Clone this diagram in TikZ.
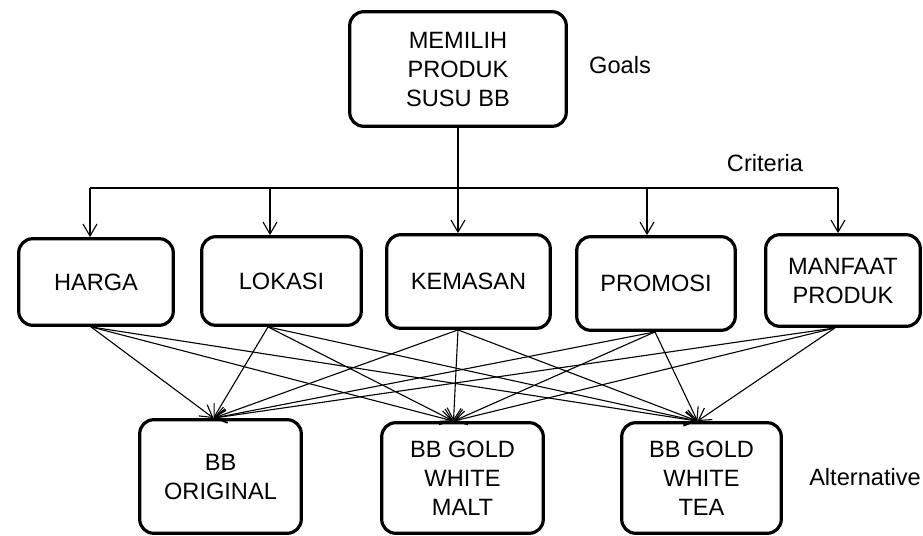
\documentclass[tikz,border=0pt]{standalone}
\usepackage{fontspec}
\setmainfont{Liberation Sans}
\usepackage{tikz}
\usetikzlibrary{arrows.meta}

\begin{document}
\begin{tikzpicture}[x=0.5pt,y=-0.5pt,font=\fontsize{11.8}{14.5}\selectfont]
\tikzset{kotak/.style={draw,line width=1.6pt,rounded corners=7pt,fill=white,align=center,inner sep=0pt,minimum width=79pt,minimum height=45pt}}
\tikzset{panah/.style={-{Straight Barb[length=6pt,width=7pt]},line width=0.55pt}}
\useasboundingbox (0,0) rectangle (923,536);
\node[kotak,minimum width=108.3pt,minimum height=57.3pt] (goal) at (458,69) {MEMILIH\\PRODUK\\SUSU BB};
\node[kotak,minimum width=77.3pt,minimum height=43.3pt] (harga) at (96,282) {HARGA};
\node[kotak,minimum width=79.8pt,minimum height=44.3pt] (lokasi) at (281.5,281) {LOKASI};
\node[kotak,minimum width=81.8pt,minimum height=46.8pt] (kemasan) at (468.5,281.5) {KEMASAN};
\node[kotak,minimum width=79.3pt,minimum height=46.8pt] (promosi) at (656,283.5) {PROMOSI};
\node[kotak,minimum width=77.3pt,minimum height=45.8pt] (manfaat) at (843,280.5) {MANFAAT\\PRODUK};
\node[kotak,minimum width=80.8pt,minimum height=56.8pt] (orig) at (220.5,476.5) {BB\\ORIGINAL};
\node[kotak,minimum width=80.8pt,minimum height=55.3pt] (malt) at (462.5,478) {BB GOLD\\WHITE\\MALT};
\node[kotak,minimum width=79.8pt,minimum height=55.3pt] (tea) at (701.5,478) {BB GOLD\\WHITE\\TEA};
\node (goals) at (620,65) {Goals};
\node (criteria) at (765,163) {Criteria};
\node (alt) at (865,477) {Alternative};
\coordinate (bar) at (458,188);
\foreach \k/\t/\b in {harga/-3/-2.5,lokasi/-5.75/-6.75,kemasan/-5.25/-5.25,promosi/-4.5/-0.5,manfaat/-2.5/-4} {\coordinate (\k-t) at ([xshift=\t pt]\k.north); \coordinate (\k-b) at ([xshift=\b pt]\k.south);}
\foreach \a/\t in {orig/-3.5,malt/-4.5,tea/-2} \coordinate (\a-t) at ([xshift=\t pt]\a.north);
\draw[line width=0.55pt] (goal.south) -- (bar);
\draw[line width=0.55pt] (bar -| harga-t) -- (bar -| manfaat-t);
\foreach \k in {harga,lokasi,kemasan,promosi,manfaat} \draw[panah] (bar -| \k-t) -- (\k-t);
\foreach \k in {harga,lokasi,kemasan,promosi,manfaat} \foreach \a in {orig,malt,tea} \draw[panah] (\k-b) -- (\a-t);
\end{tikzpicture}
\end{document}
